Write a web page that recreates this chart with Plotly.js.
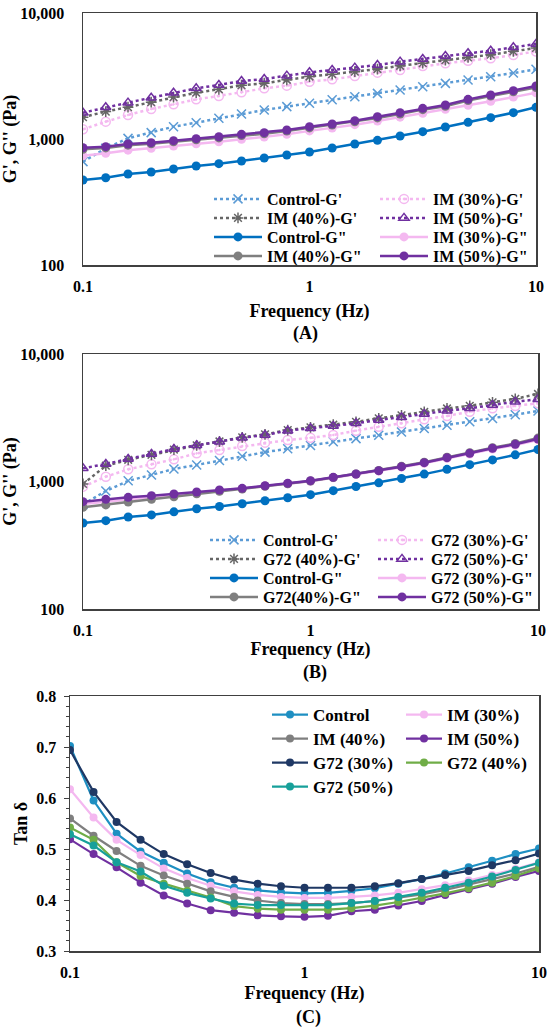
<!DOCTYPE html>
<html>
<head>
<meta charset="utf-8">
<script src="https://cdn.plot.ly/plotly-3.0.1.min.js"></script>
<style>html,body{margin:0;padding:0;background:#fff;}#chart{width:550px;height:1030px;}</style>
</head>
<body>
<div id="chart"></div>
<script>
// ---------- DATA ----------
var freq = [0.1, 0.126, 0.158, 0.2, 0.251, 0.316, 0.398, 0.501, 0.631, 0.794, 1, 1.259, 1.585, 1.995, 2.512, 3.162, 3.981, 5.012, 6.31, 7.943, 10];

// Panel A / B control
var ctrlGp  = [661, 843, 1012, 1123, 1253, 1348, 1459, 1579, 1699, 1806, 1919, 2052, 2168, 2303, 2448, 2602, 2765, 2939, 3124, 3340, 3572];
var ctrlGpp = [473, 493, 527, 547, 578, 611, 637, 669, 707, 746, 788, 848, 913, 976, 1056, 1143, 1245, 1356, 1477, 1618, 1784];

// Panel A (IM)
var im30Gp  = [1193, 1373, 1550, 1730, 1884, 2064, 2194, 2346, 2524, 2651, 2851, 2975, 3162, 3361, 3529, 3796, 3986, 4184, 4367, 4642, 4950];
var im40Gp  = [1490, 1650, 1790, 1960, 2150, 2330, 2480, 2670, 2770, 2950, 3130, 3270, 3420, 3590, 3810, 4000, 4230, 4440, 4670, 4960, 5280];
var im50Gp  = [1618, 1784, 1943, 2128, 2332, 2524, 2683, 2885, 2993, 3182, 3382, 3529, 3683, 3867, 4110, 4314, 4557, 4786, 5024, 5340, 5675];
var im30Gpp = [737, 770, 815, 845, 880, 915, 950, 995, 1035, 1090, 1160, 1220, 1300, 1390, 1490, 1600, 1720, 1850, 1990, 2150, 2330];
var im40Gpp = [830, 850, 893, 915, 950, 985, 1020, 1065, 1100, 1155, 1225, 1290, 1370, 1470, 1580, 1710, 1820, 2020, 2190, 2370, 2560];
var im50Gpp = [853, 869, 913, 935, 970, 1006, 1043, 1089, 1123, 1179, 1253, 1315, 1398, 1504, 1618, 1751, 1861, 2064, 2235, 2418, 2634];

// Panel B (G72)
var g30Gp  = [911, 1091, 1246, 1363, 1492, 1663, 1766, 1898, 2017, 2116, 2200, 2316, 2504, 2692, 2860, 3073, 3264, 3529, 3748, 3910, 4103];
var g40Gp  = [956, 1330, 1480, 1620, 1780, 1920, 2060, 2220, 2340, 2530, 2660, 2790, 2940, 3130, 3300, 3510, 3740, 3920, 4180, 4450, 4860];
var g50Gp  = [1269, 1372, 1502, 1643, 1798, 1922, 2053, 2207, 2316, 2504, 2612, 2725, 2860, 3036, 3186, 3384, 3593, 3748, 3981, 4228, 4411];
var g30Gpp = [665, 695, 725, 752, 782, 815, 846, 876, 920, 960, 1005, 1068, 1135, 1205, 1295, 1390, 1520, 1640, 1795, 1930, 2120];
var g40Gpp = [627, 655, 690, 725, 760, 800, 838, 872, 918, 960, 1010, 1075, 1145, 1220, 1315, 1415, 1550, 1680, 1840, 1985, 2190];
var g50Gpp = [695, 725, 751, 774, 798, 827, 858, 884, 927, 967, 1015, 1078, 1145, 1216, 1307, 1405, 1538, 1663, 1820, 1957, 2154];

// Panel C (tan delta)
var tdControl = [0.702, 0.595, 0.530, 0.495, 0.473, 0.452, 0.435, 0.424, 0.419, 0.415, 0.413, 0.414, 0.418, 0.423, 0.432, 0.441, 0.452, 0.464, 0.477, 0.490, 0.501];
var tdIM30    = [0.617, 0.562, 0.518, 0.488, 0.462, 0.443, 0.428, 0.417, 0.410, 0.406, 0.404, 0.404, 0.406, 0.409, 0.414, 0.421, 0.429, 0.438, 0.449, 0.461, 0.474];
var tdIM40    = [0.560, 0.526, 0.496, 0.467, 0.448, 0.432, 0.417, 0.406, 0.399, 0.394, 0.392, 0.392, 0.394, 0.398, 0.404, 0.411, 0.420, 0.430, 0.441, 0.452, 0.465];
var tdIM50    = [0.519, 0.490, 0.464, 0.434, 0.409, 0.393, 0.380, 0.375, 0.370, 0.368, 0.367, 0.369, 0.378, 0.381, 0.389, 0.398, 0.410, 0.421, 0.432, 0.445, 0.457];
var tdG30     = [0.694, 0.612, 0.553, 0.518, 0.490, 0.470, 0.453, 0.440, 0.432, 0.427, 0.424, 0.424, 0.424, 0.427, 0.433, 0.441, 0.449, 0.457, 0.468, 0.478, 0.491];
var tdG40     = [0.542, 0.518, 0.474, 0.447, 0.432, 0.418, 0.405, 0.388, 0.383, 0.381, 0.381, 0.381, 0.384, 0.389, 0.396, 0.404, 0.413, 0.423, 0.434, 0.447, 0.462];
var tdG50     = [0.529, 0.507, 0.474, 0.456, 0.428, 0.414, 0.403, 0.393, 0.390, 0.390, 0.389, 0.390, 0.394, 0.398, 0.406, 0.414, 0.424, 0.434, 0.446, 0.459, 0.473];

// Labels
var namesA = ["Control-G'", "IM (30%)-G'", "IM (40%)-G'", "IM (50%)-G'", 'Control-G"', 'IM (30%)-G"', 'IM (40%)-G"', 'IM (50%)-G"'];
var namesB = ["Control-G'", "G72 (30%)-G'", "G72 (40%)-G'", "G72 (50%)-G'", 'Control-G"', 'G72 (30%)-G"', 'G72(40%)-G"', 'G72 (50%)-G"'];
var namesC = ["Control", "IM (30%)", "IM (40%)", "IM (50%)", "G72 (30%)", "G72 (40%)", "G72 (50%)"];
var logTickVals = [100, 1000, 10000];
var logTickText = ["100", "1,000", "10,000"];
var freqTickVals = [0.1, 1, 10];
var freqTickText = ["0.1", "1", "10"];
var panelLabels = ["(A)", "(B)", "(C)"];

// ---------- STYLE ----------
var FONT = "Liberation Serif, serif";
var W = 550, H = 1030;
var cLightBlue = '#5B9BD5', cBlue = '#0070C0', cGrayD = '#666666', cGray = '#7F7F7F',
    cPink = '#F4B8F0', cPurple = '#7030A0';
var cCtrlC = '#1E8FC2', cNavy = '#1F3864', cGreen = '#70AD47', cTeal = '#17A09A';

// legend slots: [text-left x px, row-centre y px]
var legA = [[267, 199], [433, 199], [267, 218], [433, 218], [267, 237], [433, 237], [267, 256], [433, 256]];
var legB = [[263, 540], [431, 540], [263, 559], [431, 559], [263, 578], [431, 578], [263, 597], [431, 597]];
var legC = [[313, 715], [447, 715], [313, 739], [447, 739], [313, 763], [447, 763], [313, 787]];

var traces = [];
var legends = {};
var legCount = 0;
function newLegend(pos, size, iw) {
  legCount++;
  var id = legCount === 1 ? 'legend' : 'legend' + legCount;
  legends[id] = {x: (pos[0] - iw - 10) / W, y: 1 - pos[1] / H, xanchor: 'left', yanchor: 'middle',
    bgcolor: 'rgba(0,0,0,0)', borderwidth: 0, itemwidth: iw, visible: true,
    font: {family: FONT, size: size, color: '#000', weight: 'bold'}};
  return id;
}
function gp(x, y, name, color, symbol, xa, ya, leg) {
  return {x: x, y: y, name: name, xaxis: xa, yaxis: ya, legend: leg, showlegend: true, type: 'scatter', mode: 'lines+markers',
    line: {color: color, width: 2.5, dash: 'dot'},
    marker: {symbol: symbol, size: 9, color: color, line: {color: color, width: 1.5}}};
}
function gpp(x, y, name, color, xa, ya, leg) {
  return {x: x, y: y, name: name, xaxis: xa, yaxis: ya, legend: leg, showlegend: true, type: 'scatter', mode: 'lines+markers',
    line: {color: color, width: 2.5}, marker: {symbol: 'circle', size: 9, color: color}};
}
// Panel A
traces.push(gp(freq, ctrlGp, namesA[0], cLightBlue, 'x-thin-open', 'x', 'y', newLegend(legA[0], 16, 48)));
traces.push(gp(freq, im30Gp, namesA[1], cPink, 'circle-open-dot', 'x', 'y', newLegend(legA[1], 16, 48)));
traces.push(gp(freq, im40Gp, namesA[2], cGrayD, 'asterisk-open', 'x', 'y', newLegend(legA[2], 16, 48)));
traces.push(gp(freq, im50Gp, namesA[3], cPurple, 'triangle-up-open', 'x', 'y', newLegend(legA[3], 16, 48)));
traces.push(gpp(freq, ctrlGpp, namesA[4], cBlue, 'x', 'y', newLegend(legA[4], 16, 48)));
traces.push(gpp(freq, im30Gpp, namesA[5], cPink, 'x', 'y', newLegend(legA[5], 16, 48)));
traces.push(gpp(freq, im40Gpp, namesA[6], cGray, 'x', 'y', newLegend(legA[6], 16, 48)));
traces.push(gpp(freq, im50Gpp, namesA[7], cPurple, 'x', 'y', newLegend(legA[7], 16, 48)));
// Panel B
traces.push(gp(freq, ctrlGp, namesB[0], cLightBlue, 'x-thin-open', 'x2', 'y2', newLegend(legB[0], 16, 48)));
traces.push(gp(freq, g30Gp, namesB[1], cPink, 'circle-open-dot', 'x2', 'y2', newLegend(legB[1], 16, 48)));
traces.push(gp(freq, g40Gp, namesB[2], cGrayD, 'asterisk-open', 'x2', 'y2', newLegend(legB[2], 16, 48)));
traces.push(gp(freq, g50Gp, namesB[3], cPurple, 'triangle-up-open', 'x2', 'y2', newLegend(legB[3], 16, 48)));
traces.push(gpp(freq, ctrlGpp, namesB[4], cBlue, 'x2', 'y2', newLegend(legB[4], 16, 48)));
traces.push(gpp(freq, g30Gpp, namesB[5], cPink, 'x2', 'y2', newLegend(legB[5], 16, 48)));
traces.push(gpp(freq, g40Gpp, namesB[6], cGray, 'x2', 'y2', newLegend(legB[6], 16, 48)));
traces.push(gpp(freq, g50Gpp, namesB[7], cPurple, 'x2', 'y2', newLegend(legB[7], 16, 48)));
// Panel C
var cData = [tdControl, tdIM30, tdIM40, tdIM50, tdG30, tdG40, tdG50];
var cColors = [cCtrlC, cPink, cGray, cPurple, cNavy, cGreen, cTeal];
for (var i = 0; i < cData.length; i++) {
  traces.push({x: freq, y: cData[i], name: namesC[i], xaxis: 'x3', yaxis: 'y3', legend: newLegend(legC[i], 17, 36), showlegend: true,
    type: 'scatter', mode: 'lines+markers', line: {color: cColors[i], width: 2.2},
    marker: {symbol: 'circle', size: 8, color: cColors[i]}});
}

var tickFont = {family: FONT, size: 16, color: '#000', weight: 'bold'};
var titleFont = {family: FONT, size: 18, color: '#000', weight: 'bold'};
function xAxis(domain, anchor, standoff) {
  return {type: 'log', range: [-1, 1], domain: domain, anchor: anchor, tickvals: freqTickVals, ticktext: freqTickText,
    showgrid: false, zeroline: false, showline: true, mirror: true, linecolor: '#404040', linewidth: 1.5,
    ticks: '', tickfont: tickFont, ticklabelstandoff: 6,
    title: {text: 'Frequency (Hz)', font: titleFont, standoff: standoff}, automargin: false};
}
function yLog(domain, anchor) {
  return {type: 'log', range: [2, 4], domain: domain, anchor: anchor, tickvals: logTickVals, ticktext: logTickText,
    showgrid: false, zeroline: false, showline: true, mirror: true, linecolor: '#404040', linewidth: 1.5,
    ticks: '', tickfont: tickFont, ticklabelstandoff: 14,
    title: {text: "G', G'' (Pa)", font: titleFont, standoff: 2}, automargin: false};
}

var layout = {
  width: W, height: H, margin: {l: 0, r: 0, t: 0, b: 0},
  font: {family: FONT, color: '#000'},
  paper_bgcolor: '#fff', plot_bgcolor: '#fff', showlegend: true,
  xaxis: xAxis([83 / W, 536 / W], 'y', 10),
  yaxis: yLog([1 - 265 / H, 1 - 13 / H], 'x'),
  xaxis2: xAxis([83 / W, 538 / W], 'y2', 4),
  yaxis2: yLog([1 - 609 / H, 1 - 354 / H], 'x2'),
  xaxis3: xAxis([70 / W, 539 / W], 'y3', 6),
  yaxis3: {range: [0.3, 0.8], domain: [1 - 951 / H, 1 - 696 / H], anchor: 'x3', dtick: 0.1, tick0: 0.3, tickformat: '.1f',
    showgrid: false, zeroline: false, showline: true, mirror: true, linecolor: '#404040', linewidth: 1.5,
    ticks: 'outside', ticklen: 5, tickcolor: '#404040', tickfont: tickFont, ticklabelstandoff: 4,
    minor: {dtick: 0.02, ticks: 'outside', ticklen: 3, tickcolor: '#404040', showgrid: false},
    title: {text: 'Tan δ', font: titleFont, standoff: 4}, automargin: false},
  annotations: [
    {text: panelLabels[0], xref: 'paper', yref: 'paper', x: 305 / W, y: 1 - 333 / H, xanchor: 'center', yanchor: 'middle', showarrow: false, font: titleFont},
    {text: panelLabels[1], xref: 'paper', yref: 'paper', x: 315 / W, y: 1 - 672 / H, xanchor: 'center', yanchor: 'middle', showarrow: false, font: titleFont},
    {text: panelLabels[2], xref: 'paper', yref: 'paper', x: 308 / W, y: 1 - 1017 / H, xanchor: 'center', yanchor: 'middle', showarrow: false, font: titleFont}
  ]
};
for (var k in legends) layout[k] = legends[k];

Plotly.newPlot('chart', traces, layout, {staticPlot: true, displayModeBar: false});
</script>
</body>
</html>
